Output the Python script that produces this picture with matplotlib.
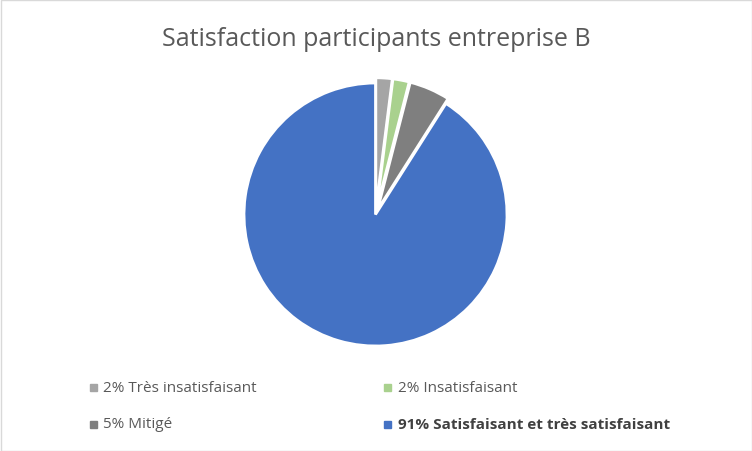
import matplotlib
matplotlib.use("Agg")
import matplotlib.pyplot as plt
from matplotlib.patches import Rectangle

title = "Satisfaction participants entreprise B"
categories = ["Très insatisfaisant", "Insatisfaisant", "Mitigé",
              "Satisfaisant et très satisfaisant"]
values = [2, 2, 5, 91]
colors = ["#A5A5A5", "#A9D18E", "#7F7F7F", "#4472C4"]

W, H = 752, 452
fig = plt.figure(figsize=(W / 100, H / 100), dpi=100)
plt.rcParams["font.family"] = ["Open Sans", "DejaVu Sans"]

# pie axes: center (375.5, 215.5) px, radius ~131.5 px
cx, cy, r = 375.5, 215.5, 131.5
half = 138
ax = fig.add_axes([(cx - half) / W, 1 - (cy + half) / H, 2 * half / W, 2 * half / H])
ax.pie(values, colors=colors, startangle=90, counterclock=False,
       explode=[0.04, 0.04, 0.04, 0.0],
       wedgeprops=dict(edgecolor="white", linewidth=2))
lim = half / r
ax.set_xlim(-lim, lim); ax.set_ylim(-lim, lim)
ax.set_aspect("equal"); ax.axis("off")

fig.text(376 / W, 1 - 46.5 / H, title, ha="center", va="baseline",
         fontsize=18, color="#595959")

# legend, laid out in two columns like the original
pos = [(93, 388.5), (388, 388.5), (93, 425), (388, 425)]
for (x, y), v, lab, col, i in zip(pos, values, categories, colors, range(4)):
    fig.patches.append(Rectangle(((x - 3.5) / W, 1 - (y + 3.5) / H), 7 / W, 7 / H,
                                 transform=fig.transFigure, color=col))
    fig.text((x + 10) / W, 1 - y / H, "{}% {}".format(v, lab), ha="left", va="center",
             fontsize=11, color="#404040" if i == 3 else "#595959",
             fontweight="bold" if i == 3 else "normal")

fig.patches.append(Rectangle((0.5 / W, 0.5 / H), 1 - 1 / W, 1 - 1 / H,
                             transform=fig.transFigure, fill=False,
                             edgecolor="#D9D9D9", linewidth=1))
fig.savefig("out.png", dpi=100)
